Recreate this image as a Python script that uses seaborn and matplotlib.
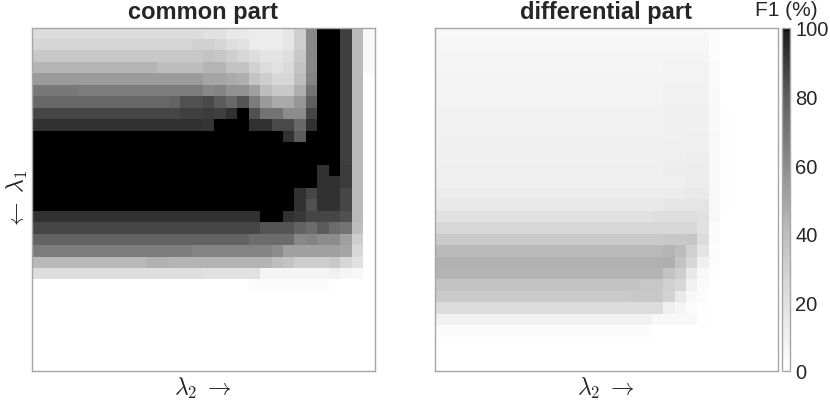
import numpy as np
import matplotlib
matplotlib.use("Agg")
import matplotlib.pyplot as plt
from matplotlib.colors import LinearSegmentedColormap
import seaborn as sns

# F1 (%), 30 x 30 cells, top row first
common_f1 = [
    [23,23,23,23,23,23,23,23,23,23,23,23,23,23,23,20,20,15,15,13,13,13,17,31,62,100,100,89,42,5],
    [27,27,27,27,27,27,27,27,27,27,27,27,27,27,29,29,27,22,20,13,13,13,17,31,62,100,100,89,42,5],
    [34,34,34,34,34,34,34,34,34,34,34,34,34,34,34,37,35,31,26,22,18,18,22,34,62,100,100,89,42,5],
    [44,44,44,44,44,44,44,44,44,44,44,40,40,40,40,44,44,37,37,29,23,20,24,37,62,100,100,89,42,5],
    [54,54,54,54,54,54,54,54,54,54,54,54,54,54,54,50,50,48,46,37,31,26,26,40,64,100,100,89,42,0],
    [69,69,69,69,67,67,67,67,67,67,67,67,67,67,67,62,64,58,58,52,40,34,34,46,71,100,100,89,42,0],
    [76,76,76,76,76,76,76,76,76,76,76,76,78,84,84,86,81,76,83,67,54,48,48,56,80,100,100,89,42,0],
    [87,87,87,87,87,87,87,87,87,87,87,87,87,89,89,90,89,93,100,84,71,71,60,60,87,100,100,89,42,0],
    [93,93,93,93,93,93,93,93,93,93,93,93,93,93,93,92,100,100,100,93,93,86,86,76,93,100,100,89,42,0],
    [100,100,100,100,100,100,100,100,100,100,100,100,100,100,100,100,100,100,100,100,100,100,93,81,100,100,100,89,42,0],
    [100,100,100,100,100,100,100,100,100,100,100,100,100,100,100,100,100,100,100,100,100,100,100,100,100,100,100,89,42,0],
    [100,100,100,100,100,100,100,100,100,100,100,100,100,100,100,100,100,100,100,100,100,100,100,100,100,100,100,89,42,0],
    [100,100,100,100,100,100,100,100,100,100,100,100,100,100,100,100,100,100,100,100,100,100,100,100,100,93,100,90,42,0],
    [100,100,100,100,100,100,100,100,100,100,100,100,100,100,100,100,100,100,100,100,100,100,100,100,100,93,93,90,42,0],
    [100,100,100,100,100,100,100,100,100,100,100,100,100,100,100,100,100,100,100,100,100,100,100,93,87,93,93,87,42,0],
    [100,100,100,100,100,100,100,100,100,100,100,100,100,100,100,100,100,100,100,100,100,100,100,93,84,93,93,87,42,0],
    [93,93,93,93,93,93,93,93,93,93,93,93,93,93,93,93,93,93,93,93,100,100,93,91,87,87,87,84,42,0],
    [87,87,87,87,87,87,87,87,87,87,87,87,87,87,87,87,87,87,87,87,83,83,83,78,74,81,74,71,40,0],
    [78,78,78,78,78,78,78,78,78,78,78,78,78,78,78,78,78,78,78,74,74,74,74,62,64,60,60,52,31,0],
    [67,67,67,67,67,67,67,67,67,67,67,67,67,67,64,64,64,64,64,64,64,60,52,52,52,52,52,50,26,0],
    [42,42,42,42,42,42,42,42,42,42,45,45,44,44,44,44,44,44,44,44,44,40,37,31,31,31,34,26,20,0],
    [22,22,22,22,22,22,22,22,22,22,22,22,22,22,22,20,20,20,20,20,7,7,7,7,7,7,10,7,5,0],
    [0,0,0,0,0,0,0,0,0,0,0,0,0,0,0,0,0,0,0,3,3,3,3,3,3,3,0,0,0,0],
    [0,0,0,0,0,0,0,0,0,0,0,0,0,0,0,0,0,0,0,0,0,0,0,0,0,0,0,0,0,0],
    [0,0,0,0,0,0,0,0,0,0,0,0,0,0,0,0,0,0,0,0,0,0,0,0,0,0,0,0,0,0],
    [0,0,0,0,0,0,0,0,0,0,0,0,0,0,0,0,0,0,0,0,0,0,0,0,0,0,0,0,0,0],
    [0,0,0,0,0,0,0,0,0,0,0,0,0,0,0,0,0,0,0,0,0,0,0,0,0,0,0,0,0,0],
    [0,0,0,0,0,0,0,0,0,0,0,0,0,0,0,0,0,0,0,0,0,0,0,0,0,0,0,0,0,0],
    [0,0,0,0,0,0,0,0,0,0,0,0,0,0,0,0,0,0,0,0,0,0,0,0,0,0,0,0,0,0],
    [0,0,0,0,0,0,0,0,0,0,0,0,0,0,0,0,0,0,0,0,0,0,0,0,0,0,0,0,0,0],
]

differential_f1 = [
    [5,5,5,5,5,5,5,5,5,5,5,5,5,5,5,5,5,5,5,5,5,5,5,5,2,0,0,0,0,0],
    [6,6,6,6,6,6,6,6,6,6,6,6,6,6,6,6,6,6,6,6,6,6,6,6,2,0,0,0,0,0],
    [7,7,7,7,7,7,7,7,7,7,7,7,7,7,7,7,7,7,7,7,7,7,7,7,2,0,0,0,0,0],
    [7,7,7,7,7,7,7,7,7,7,7,7,7,7,7,7,7,7,7,7,8,8,8,8,3,0,0,0,0,0],
    [8,8,8,8,8,8,8,8,8,8,8,8,8,8,8,8,8,8,8,8,8,8,8,8,3,0,0,0,0,0],
    [8,8,8,8,8,8,8,8,8,8,8,8,8,8,8,8,8,8,8,8,9,9,9,9,4,0,0,0,0,0],
    [8,8,8,8,8,8,8,8,8,8,8,8,8,8,8,8,8,8,8,8,9,9,9,9,4,0,0,0,0,0],
    [9,9,9,9,9,9,9,9,9,9,9,9,9,9,9,9,9,9,9,9,10,10,10,10,4,1,0,0,0,0],
    [9,9,9,9,9,9,9,9,9,9,9,9,9,9,9,9,9,9,9,9,10,10,10,10,4,1,0,0,0,0],
    [9,9,9,9,9,9,9,9,9,9,9,9,9,9,9,9,9,9,9,9,10,10,11,11,5,1,0,0,0,0],
    [10,10,10,10,10,10,10,10,10,10,10,10,10,10,10,10,10,10,10,10,11,11,11,11,5,1,0,0,0,0],
    [10,10,10,10,10,10,10,10,10,10,10,10,10,10,10,10,10,10,10,10,11,11,12,12,5,1,0,0,0,0],
    [11,11,11,11,11,11,11,11,11,11,11,11,11,11,11,11,11,11,11,11,12,12,13,13,5,1,0,0,0,0],
    [11,11,11,11,11,11,11,11,11,11,11,11,11,11,11,11,11,11,11,11,11,11,13,13,5,1,0,0,0,0],
    [13,13,13,13,13,13,13,13,13,13,13,13,13,13,13,13,13,13,13,13,13,13,15,15,5,1,0,0,0,0],
    [15,15,15,15,15,15,15,15,15,15,15,15,15,15,15,15,15,15,15,15,17,17,17,18,5,1,0,0,0,0],
    [20,20,20,20,20,20,20,20,20,20,20,20,20,20,20,20,20,20,20,22,22,22,22,20,5,0,0,0,0,0],
    [26,26,26,26,26,26,26,26,26,26,26,26,26,26,26,26,26,26,26,26,26,26,26,20,3,0,0,0,0,0],
    [33,33,33,33,33,33,33,33,33,33,33,33,33,33,33,33,33,33,33,33,34,34,36,23,3,0,0,0,0,0],
    [42,42,42,42,42,42,42,42,42,42,42,42,42,42,42,42,42,42,42,42,44,41,30,18,2,0,0,0,0,0],
    [45,45,45,45,45,45,45,45,45,45,45,45,45,45,45,45,45,45,45,45,46,37,26,10,2,0,0,0,0,0],
    [44,44,44,44,44,44,44,44,44,44,44,44,44,44,44,44,44,44,44,44,37,31,15,5,1,0,0,0,0,0],
    [37,37,37,37,37,37,37,37,37,37,37,37,37,37,37,37,37,37,35,35,30,26,9,3,0,0,0,0,0,0],
    [33,33,33,33,33,33,33,33,33,33,33,33,33,33,33,33,33,34,34,34,28,15,5,2,0,0,0,0,0,0],
    [23,23,23,23,23,23,23,23,23,23,23,23,23,23,23,23,23,23,23,23,10,7,2,1,0,0,0,0,0,0],
    [9,9,9,9,9,9,9,9,9,9,9,9,9,9,9,9,9,9,9,5,5,5,5,1,0,0,0,0,0,0],
    [3,3,3,3,3,3,3,3,3,3,3,3,3,3,3,3,3,3,3,0,0,0,0,0,0,0,0,0,0,0],
    [0,0,0,0,0,0,0,0,0,0,0,0,0,0,0,0,0,0,0,0,0,0,0,0,0,0,0,0,0,0],
    [0,0,0,0,0,0,0,0,0,0,0,0,0,0,0,0,0,0,0,0,0,0,0,0,0,0,0,0,0,0],
    [0,0,0,0,0,0,0,0,0,0,0,0,0,0,0,0,0,0,0,0,0,0,0,0,0,0,0,0,0,0],
]

titles = ["common part", "differential part"]
cbar_ticks = [0, 20, 40, 60, 80, 100]

sns.set_style("white")
plt.rcParams["font.family"] = ["Liberation Sans", "DejaVu Sans"]
plt.rcParams["mathtext.fontset"] = "cm"

W, H = 830, 402
fig = plt.figure(figsize=(W / 100, H / 100), dpi=100)

def px_axes(x0, y0, x1, y1):
    return fig.add_axes([x0 / W, 1 - y1 / H, (x1 - x0) / W, (y1 - y0) / H])

ax1 = px_axes(31.5, 28.5, 374.5, 372)
ax2 = px_axes(434.5, 28.5, 777.5, 372)
cax = px_axes(781.5, 29, 789.5, 372)

# not quite a linear grey ramp, the colorbar is darker in the upper half
cmap = LinearSegmentedColormap.from_list("f1_grey", [
    (0.0, "#ffffff"), (0.2, "#e1e1e1"), (0.4, "#bebebe"),
    (0.6, "#8c8c8c"), (0.8, "#5f5f5f"), (0.9, "#3c3c3c"),
    (0.99, "#1e1e1e"), (1.0, "#000000"),
])

sns.heatmap(np.array(common_f1), ax=ax1, cmap=cmap, vmin=0, vmax=100, cbar=False,
            xticklabels=False, yticklabels=False)
sns.heatmap(np.array(differential_f1), ax=ax2, cmap=cmap, vmin=0, vmax=100, cbar_ax=cax,
            cbar_kws={"ticks": cbar_ticks}, xticklabels=False, yticklabels=False)

grey = "#a6a6a6"
for ax, title in zip([ax1, ax2], titles):
    for s in ax.spines.values():
        s.set_visible(True)
        s.set_color(grey)
        s.set_linewidth(1.0)
    ax.set_xticks([9.5, 19.5, 29.5])
    ax.set_yticks([4.5, 9.5, 14.5, 19.5, 24.5, 29.5])
    ax.tick_params(direction="in", length=2.5, width=0.7, color="#808080",
                   top=True, right=True, bottom=True, left=True,
                   labelbottom=False, labelleft=False)
    ax.set_title(title, fontsize=17, fontweight="bold", pad=7)
    ax.set_xlabel(r"$\lambda_2\;\rightarrow$", fontsize=17, color="#222222", labelpad=3)

ax1.set_ylabel(r"$\leftarrow\;\lambda_1$", fontsize=17, color="#222222", labelpad=1)

cbar = ax2.collections[0].colorbar
cbar.outline.set_edgecolor(grey)
cbar.outline.set_linewidth(1.0)
cbar.ax.tick_params(direction="in", length=3, width=0.7, color="#808080",
                    labelsize=14.5, labelcolor="#262626", pad=4)

fig.text(786 / W, 1 - 11 / H, "F1 (%)", fontsize=15, color="#262626", ha="center", va="center")

fig.savefig("out.png", dpi=100)
